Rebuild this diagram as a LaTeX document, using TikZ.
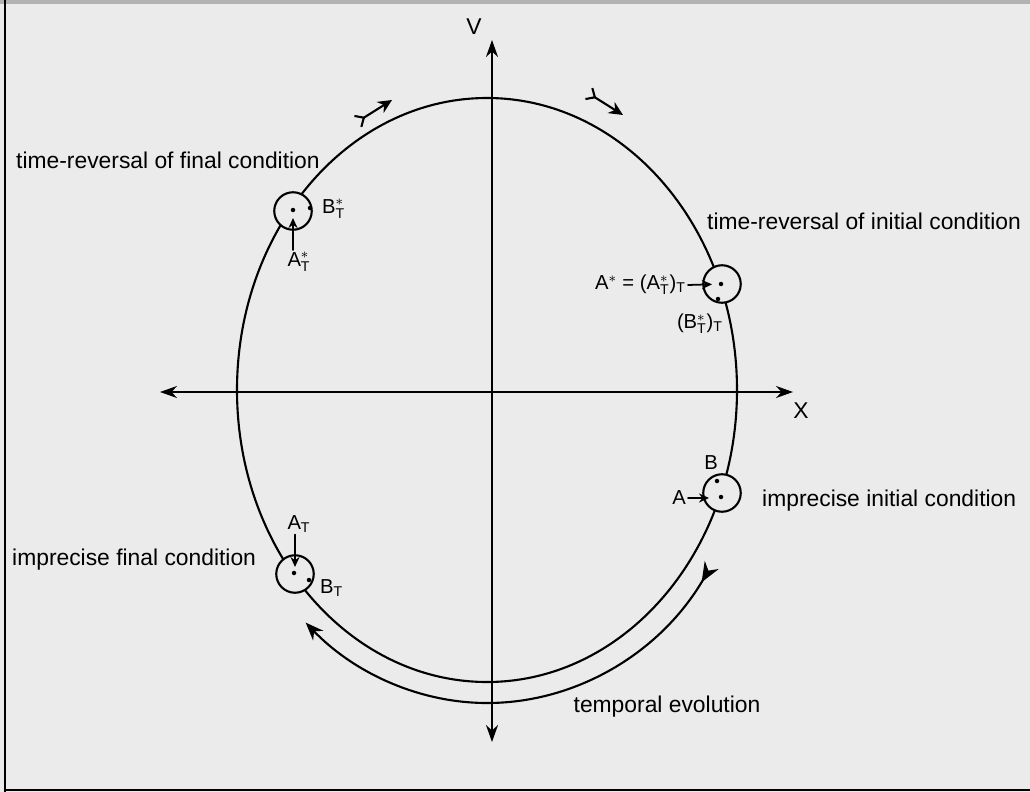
\documentclass[tikz,border=0pt]{standalone}
\usepackage{fontspec}
\setmainfont{Liberation Sans}
\setsansfont{Liberation Sans}
\usetikzlibrary{arrows.meta}
\definecolor{paper}{gray}{0.92}
\newcommand{\subsup}[2]{$_{\mathsf{#1}}^{#2}$}
\newcommand{\subT}{$_{\mathsf{T}}$}

\begin{document}
\begin{tikzpicture}[x=0.2mm,y=-0.2mm,>={Stealth[length=3.4mm,width=2.4mm]},line cap=round,line join=round,
  font=\fontsize{13}{15}\selectfont,
  ax/.style={<->,line width=1.2pt},
  orbit/.style={line width=1.2pt},
  cond/.style={circle,draw,line width=1.2pt,fill=paper,minimum size=7.5mm,inner sep=0pt},
  lbl/.style={font=\fontsize{11.5}{13}\selectfont,inner sep=1pt},
  pt/.style={circle,fill,inner sep=0pt,minimum size=0.9mm},
  into/.style={-{Stealth[length=2mm,width=1.8mm]},line width=1pt},
  flight/.style={{Straight Barb[reversed,length=1.4mm,width=2.6mm]}-{Stealth[length=2.8mm,width=2.6mm]},line width=1.2pt}]
\useasboundingbox (0,0) rectangle (1030,792);
\fill[paper] (0,0) rectangle (1030,792);
% frame of the scanned page
\fill[gray!60] (0,0) rectangle (1030,4);
\draw[line width=1.2pt] (5,0) -- (5,792);
\draw[line width=1.2pt] (5,790) -- (1030,790);
% axes
\coordinate (vtop) at (492,40);
\coordinate (vbot) at (492,742);
\coordinate (xleft) at (160,392);
\coordinate (xright) at (793,392);
\draw[ax] (vbot) -- (vtop);
\draw[ax] (xleft) -- (xright);
\node (V) at (474,27) {V};
\node (X) at (801,411) {X};
% the orbit in phase space
\coordinate (O) at (487,390);
\draw[orbit] (O) ellipse [x radius=250,y radius=292];
\draw[flight] (357,122) -- (392,100);
\draw[flight] (588,93) -- (623,115);
% temporal evolution
\path (O) ++(34:271 and 313) coordinate (evo);
\draw[orbit,{Stealth[reversed,length=4mm,width=3.2mm]}-{Stealth[length=3.6mm,width=2.8mm]}] (evo) arc[start angle=34,end angle=132,x radius=271,y radius=313];
\node (tevo) at (667,707) {temporal evolution};
% conditions
\node[cond] (cTfin) at (293,211) {};
\node[cond] (cTini) at (722,284) {};
\node[cond] (cIni) at (722,493) {};
\node[cond] (cFin) at (295,574) {};
\node[pt] (dTfin1) at (293,210) {};
\node[pt] (dTfin2) at (310,208) {};
\node[pt] (dTini1) at (721,284) {};
\node[pt] (dTini2) at (718,299) {};
\node[pt] (dIni1) at (717,481) {};
\node[pt] (dIni2) at (721,497) {};
\node[pt] (dFin1) at (294,573) {};
\node[pt] (dFin2) at (309,580) {};
\node[anchor=west] (tfin) at (10,160) {time-reversal of final condition};
\node[anchor=west] (tini) at (701,221) {time-reversal of initial condition};
\node[anchor=west] (iini) at (756,501) {imprecise initial condition};
\node[anchor=west] (ifin) at (6,560) {imprecise final condition};
% labels and little arrows
\node[lbl,anchor=west] (BTs) at (320,209) {B\subsup{T}{*}};
\node[lbl,anchor=north] (ATs) at (299,250) {A\subsup{T}{*}};
\draw[into,shorten >=1.4mm] (ATs.north -| cTfin) -- (cTfin.center);
\node[lbl,anchor=east] (Astar) at (688,285) {A$^{*}$ = (A\subsup{T}{*})\subT};
\node[lbl] (BTsT) at (700,324) {(B\subsup{T}{*})\subT};
\draw[into,shorten >=2mm] (Astar.east) -- (cTini.center);
\node[lbl] (B) at (711,463) {B};
\node[lbl,anchor=east] (A) at (688,498) {A};
\draw[into,shorten >=2.6mm] (A.east) -- (cIni.center |- A.east);
\node[lbl] (AT) at (299,524) {A\subT};
\node[lbl,anchor=west] (BT) at (318,588) {B\subT};
\draw[into,shorten >=1.4mm] (AT.south -| cFin) -- (cFin.center);
\end{tikzpicture}
\end{document}
